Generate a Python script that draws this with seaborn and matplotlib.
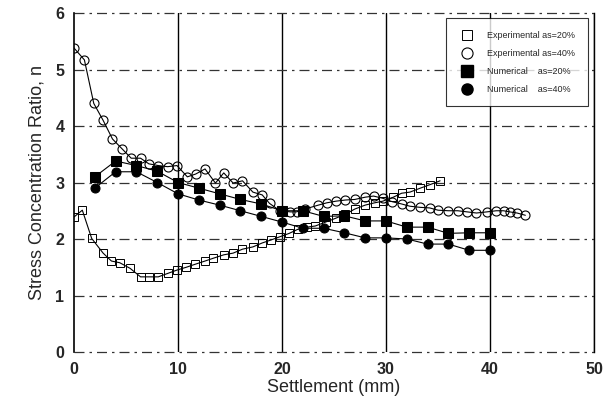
import matplotlib
matplotlib.use("Agg")
import matplotlib.pyplot as plt
from matplotlib.lines import Line2D
import seaborn as sns
import pandas as pd

# Experimental, area ratio 20%
exp20_x = [0, 0.8, 1.7, 2.8, 3.6, 4.4, 5.4, 6.4, 7.2, 8.1, 9.0, 9.9, 10.8, 11.6, 12.6,
           13.4, 14.4, 15.3, 16.2, 17.2, 18.1, 18.9, 19.8, 20.7, 21.5, 22.4, 23.2, 24.2,
           25.2, 26.1, 27.0, 28.0, 28.9, 29.7, 30.7, 31.5, 32.3, 33.3, 34.2, 35.2]
exp20_y = [2.39, 2.51, 2.01, 1.75, 1.61, 1.58, 1.48, 1.33, 1.33, 1.33, 1.39, 1.45, 1.50,
           1.55, 1.61, 1.66, 1.72, 1.75, 1.82, 1.86, 1.93, 1.98, 2.04, 2.10, 2.17, 2.21,
           2.23, 2.30, 2.37, 2.44, 2.53, 2.60, 2.64, 2.67, 2.74, 2.81, 2.83, 2.90, 2.96,
           3.03]

# Experimental, area ratio 40%
exp40_x = [0, 1.0, 1.9, 2.8, 3.7, 4.6, 5.5, 6.4, 7.2, 8.1, 9.0, 9.9, 10.9, 11.7, 12.6,
           13.6, 14.4, 15.3, 16.2, 17.2, 18.1, 18.8, 19.8, 20.8, 21.4, 22.2, 23.5, 24.3,
           25.2, 26.1, 27.0, 28.0, 28.8, 29.7, 30.6, 31.5, 32.3, 33.3, 34.2, 35.0, 36.0,
           36.9, 37.8, 38.7, 39.7, 40.6, 41.3, 41.9, 42.6, 43.4]
exp40_y = [5.38, 5.17, 4.40, 4.10, 3.77, 3.60, 3.43, 3.43, 3.33, 3.30, 3.28, 3.30, 3.10,
           3.15, 3.24, 2.99, 3.17, 2.99, 3.03, 2.83, 2.78, 2.63, 2.50, 2.48, 2.48, 2.53,
           2.60, 2.64, 2.67, 2.69, 2.70, 2.74, 2.76, 2.72, 2.66, 2.62, 2.58, 2.56, 2.55,
           2.51, 2.50, 2.50, 2.48, 2.46, 2.48, 2.50, 2.50, 2.48, 2.46, 2.42]

# Numerical results
num_x = [2, 4, 6, 8, 10, 12, 14, 16, 18, 20, 22, 24, 26, 28, 30, 32, 34, 36, 38, 40]
num20_y = [3.10, 3.38, 3.30, 3.20, 3.00, 2.90, 2.80, 2.70, 2.62, 2.50, 2.50, 2.40, 2.41,
           2.32, 2.32, 2.21, 2.21, 2.10, 2.11, 2.11]
num40_y = [2.90, 3.19, 3.19, 3.00, 2.80, 2.69, 2.60, 2.50, 2.40, 2.30, 2.19, 2.19, 2.11,
           2.02, 2.02, 2.00, 1.91, 1.91, 1.80, 1.80]

labels = ["Experimental as=20%", "Experimental as=40%",
          "Numerical    as=20%", "Numerical    as=40%"]

sns.set_theme(style="white")
plt.rcParams["font.family"] = ["Liberation Sans", "DejaVu Sans"]

fig = plt.figure(figsize=(6.03, 4.07), dpi=100)
ax = fig.add_axes([74 / 603, 55 / 407, 520 / 603, 339 / 407])

series = [
    (exp20_x, exp20_y, dict(marker="s", markersize=5.5, markerfacecolor="none",
                            markeredgecolor="black", markeredgewidth=0.7)),
    (exp40_x, exp40_y, dict(marker="o", markersize=6.5, markerfacecolor="none",
                            markeredgecolor="black", markeredgewidth=0.8)),
    (num_x, num20_y, dict(marker="s", markersize=6.5, markerfacecolor="black",
                          markeredgecolor="black")),
    (num_x, num40_y, dict(marker="o", markersize=6.5, markerfacecolor="black",
                          markeredgecolor="black")),
]
for (xs, ys, style), lab in zip(series, labels):
    df = pd.DataFrame({"x": xs, "y": ys})
    sns.lineplot(data=df, x="x", y="y", ax=ax, sort=False, color="black",
                 linewidth=0.8, estimator=None, legend=False, **style)

ax.set_xlim(0, 50)
ax.set_ylim(0, 6)
ax.set_xticks(range(0, 51, 10))
ax.set_yticks(range(0, 7))
for v in range(10, 51, 10):
    ax.axvline(v, color="black", linewidth=1.0, zorder=0)
for v in range(0, 7):
    ax.axhline(v, color="#333333", linewidth=0.9, linestyle=(0, (8, 4, 2, 4)),
               zorder=0, clip_on=False)

for side in ["top", "bottom"]:
    ax.spines[side].set_visible(False)
ax.spines["left"].set_color("black")
ax.spines["left"].set_linewidth(1.2)
ax.spines["right"].set_color("black")
ax.spines["right"].set_linewidth(1.0)

ax.tick_params(axis="both", labelsize=11.5, length=0, pad=7)
for t in ax.get_xticklabels() + ax.get_yticklabels():
    t.set_fontweight("bold")
ax.set_xlabel("Settlement (mm)", fontsize=13, labelpad=2)
ax.set_ylabel("Stress Concentration Ratio, n", fontsize=13, labelpad=7)

handles = [Line2D([], [], linestyle="none", **s[2]) for s in series]
handles[0].set_markersize(7)
handles[1].set_markersize(8)
handles[2].set_markersize(8)
handles[3].set_markersize(8)
leg = ax.legend(handles, labels, loc="upper right", bbox_to_anchor=(0.988, 0.985),
                fontsize=6.5, frameon=True, fancybox=False, edgecolor="black",
                handletextpad=1.2, labelspacing=1.0, borderpad=1.4,
                borderaxespad=0, handlelength=2.0)
leg.get_frame().set_linewidth(0.8)

fig.savefig("out.png", dpi=100)
